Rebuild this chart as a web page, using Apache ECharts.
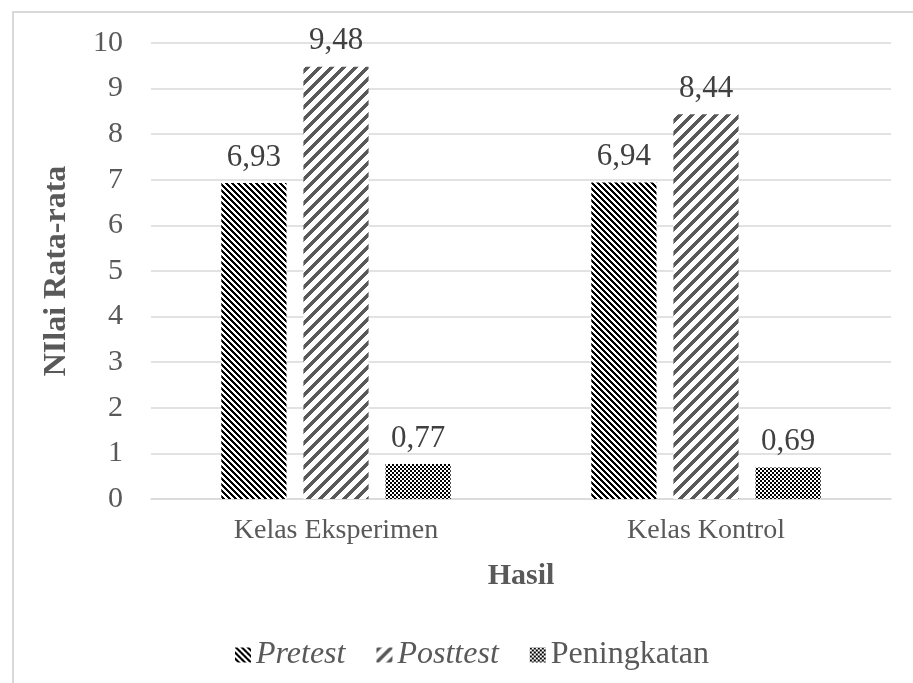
<!DOCTYPE html>
<html>
<head>
<meta charset="utf-8">
<script src="https://cdn.jsdelivr.net/npm/echarts@6/dist/echarts.min.js"></script>
<style>
html,body{margin:0;padding:0;background:#fff;}
#chart{width:913px;height:683px;}
</style>
</head>
<body>
<div id="chart"></div>
<script>
const categories = ['Kelas Eksperimen', 'Kelas Kontrol'];
const seriesNames = ['Pretest', 'Posttest', 'Peningkatan'];
const pretestValues = [6.93, 6.94];
const posttestValues = [9.48, 8.44];
const peningkatanValues = [0.77, 0.69];
const yTicks = [0, 1, 2, 3, 4, 5, 6, 7, 8, 9, 10];

const FONT = '"Liberation Serif", "Times New Roman", serif';
const TXT = '#595959';

function makePattern(size, fn) {
  const c = document.createElement('canvas');
  c.width = size; c.height = size;
  const ctx = c.getContext('2d');
  const img = ctx.createImageData(size, size);
  for (let y = 0; y < size; y++) {
    for (let x = 0; x < size; x++) {
      const col = fn(x, y);
      const i = (y * size + x) * 4;
      img.data[i] = col[0]; img.data[i+1] = col[1]; img.data[i+2] = col[2]; img.data[i+3] = 255;
    }
  }
  ctx.putImageData(img, 0, 0);
  return c;
}
const W = [255,255,255];
const pretestPat = makePattern(6, (x, y) => (((x - y) % 6 + 6) % 6) < 3 ? [0,0,0] : W);
const posttestPat = makePattern(12, (x, y) => ((x + y) % 12) < 5 ? [89,89,89] : W);
const peningPat = makePattern(4, (x, y) => ((Math.floor(x/2) + Math.floor(y/2)) % 2 === 0) ? [0,0,0] : W);

const patterns = [pretestPat, posttestPat, peningPat];
const values = [pretestValues, posttestValues, peningkatanValues];

const chart = echarts.init(document.getElementById('chart'));
chart.setOption({
  animation: false,
  backgroundColor: '#fff',
  graphic: [{
    type: 'rect',
    shape: { x: 13, y: 12, width: 1000, height: 1000 },
    style: { fill: 'none', stroke: '#d9d9d9', lineWidth: 2 },
    silent: true
  }],
  grid: { left: 151, right: 22, top: 43, bottom: 184 },
  legend: {
    top: 634,
    left: 230,
    itemWidth: 16,
    itemHeight: 15,
    itemGap: 31,
    icon: 'rect',
    data: seriesNames,
    formatter: name => name === 'Peningkatan' ? name : '{it|' + name + '}',
    textStyle: {
      fontFamily: FONT, fontSize: 32, color: TXT,
      rich: { it: { fontFamily: FONT, fontSize: 32, color: TXT, fontStyle: 'italic' } }
    }
  },
  xAxis: {
    type: 'category',
    data: categories,
    name: 'Hasil',
    nameLocation: 'middle',
    nameGap: 62,
    nameTextStyle: { fontFamily: FONT, fontSize: 30, fontWeight: 'bold', color: TXT, verticalAlign: 'top' },
    axisLine: { show: true, lineStyle: { color: '#d9d9d9', width: 1.5 } },
    axisTick: { show: false },
    axisLabel: { fontFamily: FONT, fontSize: 28, color: TXT, margin: 18 }
  },
  yAxis: {
    type: 'value',
    min: 0, max: 10, interval: 1,
    name: 'NIlai Rata-rata',
    nameLocation: 'middle',
    nameGap: 78,
    nameTextStyle: { fontFamily: FONT, fontSize: 32, fontWeight: 'bold', color: TXT },
    axisLine: { show: false },
    axisTick: { show: false },
    splitLine: { lineStyle: { color: '#d9d9d9', width: 1.5 } },
    axisLabel: {
      fontFamily: FONT, fontSize: 30, color: TXT, margin: 28,
      formatter: v => yTicks.includes(v) ? String(v) : ''
    }
  },
  series: seriesNames.map((name, i) => ({
    name: name,
    type: 'bar',
    data: values[i],
    barGap: '26%',
    barCategoryGap: '38%',
    itemStyle: { color: { image: patterns[i], repeat: 'repeat' } },
    label: {
      show: true,
      position: 'top',
      distance: 10,
      fontFamily: FONT, fontSize: 31, color: '#404040',
      formatter: p => p.value.toFixed(2).replace('.', ',')
    }
  }))
});
</script>
</body>
</html>
